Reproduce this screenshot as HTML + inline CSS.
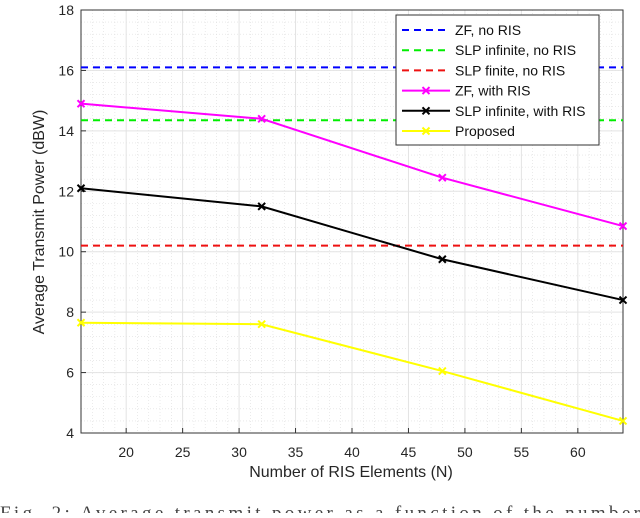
<!DOCTYPE html>
<html><head><meta charset="utf-8"><style>
body{margin:0;background:#fff;width:640px;height:513px;overflow:hidden;font-family:"Liberation Sans",sans-serif}
</style></head><body>
<svg width="640" height="513" font-family="Liberation Sans, sans-serif">
<g id="grid"></g>
<g id="axes"></g>
<g id="series"></g>
<text x="351" y="477" font-size="16" text-anchor="middle" fill="#262626">Number of RIS Elements (N)</text>
<text transform="translate(44,222) rotate(-90)" font-size="16" text-anchor="middle" fill="#262626">Average Transmit Power (dBW)</text>
<text x="0" y="519" font-size="19" font-family="Liberation Serif, serif" fill="#444" textLength="640">Fig. 2:  Average transmit power as a function of the number</text>
<g id="legend"></g>
</svg>
<script>
const xTicks=[20,25,30,35,40,45,50,55,60];
const yTicks=[4,6,8,10,12,14,16,18];
const nValues=[16,32,48,64];
const zfNoRis=16.1, slpInfNoRis=14.35, slpFinNoRis=10.2;
const zfRis=[14.9,14.4,12.45,10.85];
const slpInfRis=[12.1,11.5,9.75,8.4];
const proposed=[7.65,7.6,6.05,4.4];
const L=81,R=623,T=10,B=433;
const xs=v=>L+(v-16)/48*(R-L);
const ys=v=>B-(v-4)/14*(B-T);
const NS="http://www.w3.org/2000/svg";
function mk(p,t,a){const e=document.createElementNS(NS,t);for(const k in a)e.setAttribute(k,a[k]);p.appendChild(e);return e;}
const g=document.getElementById('grid'),ax=document.getElementById('axes'),s=document.getElementById('series'),lg=document.getElementById('legend');
mk(g,'rect',{x:L,y:T,width:R-L,height:B-T,fill:'#fff'});
for(let v=17;v<64;v++){if(v%5==0)continue;mk(g,'line',{x1:xs(v),x2:xs(v),y1:T,y2:B,stroke:'#ddd','stroke-width':0.6,'stroke-dasharray':'1,2'});}
for(let v=4.4;v<18;v+=0.4){mk(g,'line',{x1:L,x2:R,y1:ys(v),y2:ys(v),stroke:'#ddd','stroke-width':0.6,'stroke-dasharray':'1,2'});}
xTicks.forEach(v=>{mk(g,'line',{x1:xs(v),x2:xs(v),y1:T,y2:B,stroke:'#e3e3e3','stroke-width':1});
mk(ax,'line',{x1:xs(v),x2:xs(v),y1:B,y2:B-5,stroke:'#333'});
const t=mk(ax,'text',{x:xs(v),y:B+24,'font-size':14,'text-anchor':'middle',fill:'#262626'});t.textContent=v;

});
yTicks.forEach(v=>{mk(g,'line',{x1:L,x2:R,y1:ys(v),y2:ys(v),stroke:'#e3e3e3','stroke-width':1});
mk(ax,'line',{x1:L,x2:L+5,y1:ys(v),y2:ys(v),stroke:'#333'});
const t=mk(ax,'text',{x:L-7,y:ys(v)+5,'font-size':14,'text-anchor':'end',fill:'#262626'});t.textContent=v;

});
mk(ax,'rect',{x:L,y:T,width:R-L,height:B-T,fill:'none',stroke:'#333','stroke-width':1});
function hline(v,c,n){const e=mk(s,'line',{x1:L,x2:R,y1:ys(v),y2:ys(v),stroke:c,'stroke-width':2,'stroke-dasharray':'7,5'});

}
hline(zfNoRis,'#0000ff','zf-no-ris-line');hline(slpInfNoRis,'#00ee00','slp-infinite-no-ris-line');hline(slpFinNoRis,'#ee1111','slp-finite-no-ris-line');
function cross(p,x,y,c){mk(p,'path',{d:`M${x-3.5},${y-3.5}L${x+3.5},${y+3.5}M${x-3.5},${y+3.5}L${x+3.5},${y-3.5}`,stroke:c,'stroke-width':2});}
function ser(d,c,n){const e=mk(s,'polyline',{points:d.map((v,i)=>xs(nValues[i])+','+ys(v)).join(' '),fill:'none',stroke:c,'stroke-width':2});


d.forEach((v,i)=>cross(s,xs(nValues[i]),ys(v),c));}
ser(zfRis,'#ff00ff','zf-with-ris-line');ser(slpInfRis,'#000','slp-infinite-with-ris-line');ser(proposed,'#ffff00','proposed-line');
mk(lg,'rect',{x:396,y:15,width:203,height:130,fill:'#fff',stroke:'#333','stroke-width':1});
const items=[['ZF, no RIS','#0000ff',1],['SLP infinite, no RIS','#00ee00',1],['SLP finite, no RIS','#ee1111',1],['ZF, with RIS','#ff00ff',0],['SLP infinite, with RIS','#000',0],['Proposed','#ffff00',0]];
items.forEach((it,i)=>{const y=30+i*20.2;
if(it[2])mk(lg,'line',{x1:402,x2:450,y1:y,y2:y,stroke:it[1],'stroke-width':2,'stroke-dasharray':'7,5'});
else{mk(lg,'line',{x1:402,x2:450,y1:y,y2:y,stroke:it[1],'stroke-width':2});cross(lg,426,y,it[1]);}
const t=mk(lg,'text',{x:455,y:y+5,'font-size':14,fill:'#111'});t.textContent=it[0];

});
</script>
</body></html>
